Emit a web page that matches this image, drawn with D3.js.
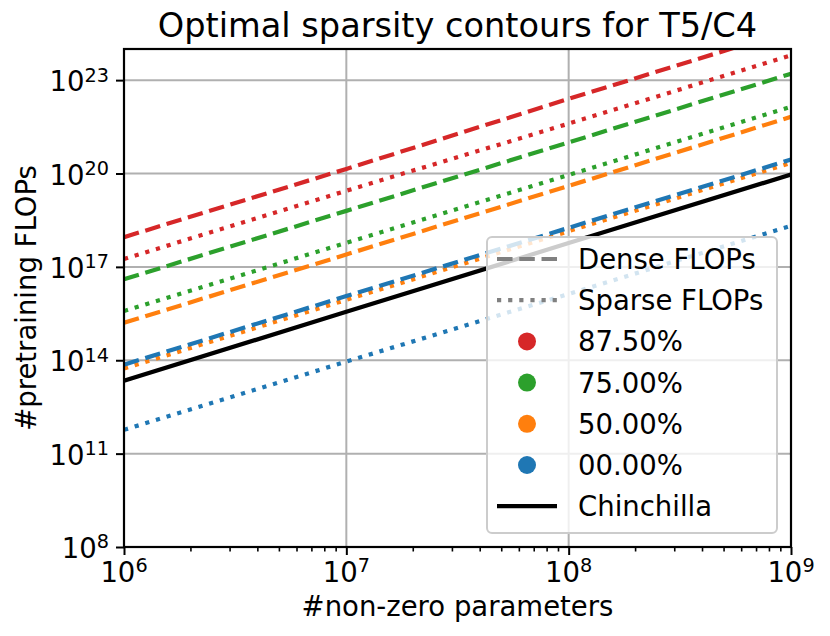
<!DOCTYPE html>
<html>
<head>
<meta charset="utf-8">
<script src="https://cdn.jsdelivr.net/npm/d3@7"></script>
<style>
  body { margin: 0; background: #fff; }
  svg { font-family: "DejaVu Sans", sans-serif; }
</style>
</head>
<body>
<div class="chart"></div>
<script>
// data
const nonZeroParams = [1e6, 1e7, 1e8, 1e9];
const sparsityLabels = ["87.50%", "75.00%", "50.00%", "00.00%"];
const sparsityColors = ["#d62728", "#2ca02c", "#ff7f0e", "#1f77b4"];
const denseFlops = [
    [9e17, 1.4e20, 2.5e22, 4e24],
    [4e16, 6.3e18, 1e21, 1.6e23],
    [1.6e15, 2.5e17, 4e19, 6.6e21],
    [7.2e13, 1.15e16, 1.8e18, 2.8e20]
];
const sparseFlops = [
    [1.8e17, 2.8e19, 4e21, 6.3e23],
    [3.8e15, 5.9e17, 9e19, 1.4e22],
    [5.4e13, 8.7e15, 1.4e18, 2.2e20],
    [5.8e11, 9e13, 1.35e16, 2.1e18]
];
const chinchillaFlops = [2.2e13, 3.6e15, 5.8e17, 9.3e19];
const xTickValues = [1e6, 1e7, 1e8, 1e9];
const yTickValues = [1e8, 1e11, 1e14, 1e17, 1e20, 1e23];

const W = 830, H = 636,
    margin = {left: 124, right: 39, top: 49, bottom: 89},
    lw = 4.2,
    fs = 27.5;

const svg = d3.select(".chart").append("svg")
    .attr("width", W).attr("height", H);

const x = d3.scaleLog().domain([1e6, 1e9]).range([margin.left, W - margin.right]);
const y = d3.scaleLog().domain([1e8, 1e24]).range([H - margin.bottom, margin.top]);

svg.append("defs").append("clipPath").attr("id", "plot")
    .append("rect")
    .attr("x", margin.left).attr("y", margin.top)
    .attr("width", x.range()[1] - margin.left)
    .attr("height", y.range()[0] - margin.top);

// grid
const grid = svg.append("g").attr("class", "grid");
xTickValues.forEach(v => {
    grid.append("line")
        .attr("x1", x(v)).attr("x2", x(v))
        .attr("y1", y.range()[0]).attr("y2", y.range()[1])
        .attr("stroke", "#b0b0b0").attr("stroke-width", 2);
});
yTickValues.forEach(v => {
    grid.append("line")
        .attr("x1", x.range()[0]).attr("x2", x.range()[1])
        .attr("y1", y(v)).attr("y2", y(v))
        .attr("stroke", "#b0b0b0").attr("stroke-width", 2);
});

// lines
const line = d3.line().x((d, i) => x(nonZeroParams[i])).y(d => y(d));
const lines = svg.append("g").attr("clip-path", "url(#plot)");
const dashed = (lw * 3.7) + "," + (lw * 1.6);
const dotted = (lw * 1) + "," + (lw * 1.65);

sparsityLabels.forEach((s, k) => {
    lines.append("path")
        .attr("d", line(denseFlops[k]))
        .attr("fill", "none")
        .attr("stroke", sparsityColors[k])
        .attr("stroke-width", lw)
        .attr("stroke-dasharray", dashed);
    lines.append("path")
        .attr("d", line(sparseFlops[k]))
        .attr("fill", "none")
        .attr("stroke", sparsityColors[k])
        .attr("stroke-width", lw)
        .attr("stroke-dasharray", dotted);
});
lines.append("path")
    .attr("d", line(chinchillaFlops))
    .attr("fill", "none")
    .attr("stroke", "#000")
    .attr("stroke-width", lw);

// axes
const supLabel = (sel, v) => {
    const e = Math.round(Math.log10(v));
    sel.text("10").append("tspan")
        .attr("dy", "-0.5em").attr("font-size", "0.7em").text(e);
};

const xAxis = svg.append("g")
    .attr("transform", `translate(0,${y.range()[0]})`)
    .call(d3.axisBottom(x).tickValues(xTickValues).tickSize(8).tickFormat(""));
xAxis.select(".domain").remove();
xAxis.selectAll(".tick line").attr("stroke-width", 2);
// minor ticks
const minors = [];
for (let p = 6; p < 9; p++) for (let m = 2; m < 10; m++) minors.push(m * Math.pow(10, p));
xAxis.selectAll(".minor").data(minors).join("line")
    .attr("class", "minor")
    .attr("x1", d => x(d)).attr("x2", d => x(d))
    .attr("y1", 0).attr("y2", 4.5)
    .attr("stroke", "#000").attr("stroke-width", 1.6);

xTickValues.forEach(v => {
    svg.append("text")
        .attr("x", x(v)).attr("y", 582)
        .attr("text-anchor", "middle")
        .attr("font-size", fs)
        .call(supLabel, v);
});

const yAxis = svg.append("g")
    .attr("transform", `translate(${x.range()[0]},0)`)
    .call(d3.axisLeft(y).tickValues(yTickValues).tickSize(8).tickFormat(""));
yAxis.select(".domain").remove();
yAxis.selectAll(".tick line").attr("stroke-width", 2);

yTickValues.forEach(v => {
    svg.append("text")
        .attr("x", 109).attr("y", y(v) + 11)
        .attr("text-anchor", "end")
        .attr("font-size", fs)
        .call(supLabel, v);
});

// frame
svg.append("rect")
    .attr("x", x.range()[0]).attr("y", y.range()[1])
    .attr("width", x.range()[1] - x.range()[0])
    .attr("height", y.range()[0] - y.range()[1])
    .attr("fill", "none").attr("stroke", "#000").attr("stroke-width", 2.2);

// title and labels
const cx = (x.range()[0] + x.range()[1]) / 2;
svg.append("text")
    .attr("x", cx).attr("y", 37)
    .attr("text-anchor", "middle").attr("font-size", 33.6)
    .text("Optimal sparsity contours for T5/C4");
svg.append("text")
    .attr("x", cx).attr("y", 616)
    .attr("text-anchor", "middle").attr("font-size", fs)
    .text("#non-zero parameters");
svg.append("text")
    .attr("transform", `translate(36,${(y.range()[0] + y.range()[1]) / 2}) rotate(-90)`)
    .attr("text-anchor", "middle").attr("font-size", fs)
    .text("#pretraining FLOPs");

// legend
const lg = svg.append("g").attr("class", "legend");
lg.append("rect")
    .attr("x", 487).attr("y", 237).attr("width", 290).attr("height", 296)
    .attr("rx", 5)
    .attr("fill", "#fff").attr("fill-opacity", 0.8)
    .attr("stroke", "#cccccc").attr("stroke-width", 2);

const rowY = i => 259 + i * 41.2;
const handleX0 = 497, handleX1 = 557, textX = 578;

const legendText = (label, i) => {
    lg.append("text")
        .attr("x", textX).attr("y", rowY(i) + 10)
        .attr("font-size", fs)
        .text(label);
};

lg.append("line")
    .attr("x1", handleX0).attr("x2", handleX1).attr("y1", rowY(0)).attr("y2", rowY(0))
    .attr("stroke", "#808080").attr("stroke-width", lw).attr("stroke-dasharray", dashed);
legendText("Dense FLOPs", 0);
lg.append("line")
    .attr("x1", handleX0).attr("x2", handleX1).attr("y1", rowY(1)).attr("y2", rowY(1))
    .attr("stroke", "#808080").attr("stroke-width", lw).attr("stroke-dasharray", dotted);
legendText("Sparse FLOPs", 1);

sparsityLabels.forEach((s, k) => {
    lg.append("circle")
        .attr("cx", (handleX0 + handleX1) / 2).attr("cy", rowY(k + 2))
        .attr("r", 9).attr("fill", sparsityColors[k]);
    legendText(s, k + 2);
});

lg.append("line")
    .attr("x1", handleX0).attr("x2", handleX1).attr("y1", rowY(6)).attr("y2", rowY(6))
    .attr("stroke", "#000").attr("stroke-width", lw);
legendText("Chinchilla", 6);
</script>
</body>
</html>
